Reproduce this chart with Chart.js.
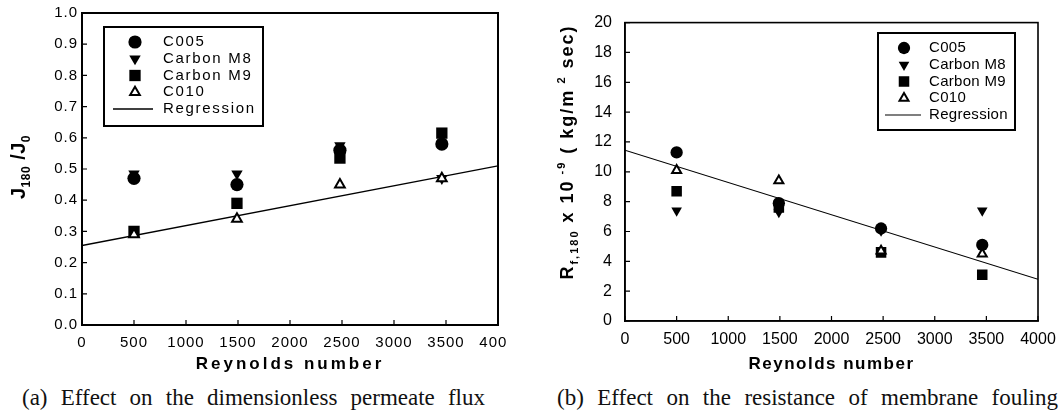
<!DOCTYPE html>
<html>
<head>
<meta charset="utf-8">
<script src="https://cdn.jsdelivr.net/npm/chart.js@4/dist/chart.umd.min.js"></script>
<style>
  body { margin: 0; background: #fff; width: 1064px; height: 416px; position: relative; overflow: hidden; }
  .panel { position: absolute; top: 0; height: 375px; overflow: hidden; }
  #wrapA { left: 0; width: 506px; }
  #wrapB { left: 530px; width: 534px; }
  .caption { position: absolute; top: 385px; font: 23px "Liberation Serif", serif; line-height: 26px;
             white-space: nowrap; text-align: justify; text-align-last: justify; color: #111; }
  #capA { left: 22px; width: 463px; }
  #capB { left: 557px; width: 501px; }
</style>
</head>
<body>
<div class="panel" id="wrapA"><canvas id="chartA" width="506" height="375"></canvas></div>
<div class="panel" id="wrapB"><canvas id="chartB" width="534" height="375"></canvas></div>
<div class="caption" id="capA">(a) Effect on the dimensionless permeate flux</div>
<div class="caption" id="capB">(b) Effect on the resistance of membrane fouling</div>
<script>
// Reynolds numbers of the four runs, and the ends of the regression lines
const reynolds = [500, 1490, 2480, 3460];
const regressionRe = [0, 4000];
const seriesLabels = ['C005', 'Carbon M8', 'Carbon M9', 'C010', 'Regression'];

// (a) J180/J0
const fluxC005 = [0.47, 0.45, 0.56, 0.58];
const fluxM8 = [0.485, 0.485, 0.575, 0.47];
const fluxM9 = [0.30, 0.39, 0.535, 0.615];
const fluxC010 = [0.29, 0.34, 0.45, 0.47];
const fluxRegression = [0.255, 0.51];

// (b) Rf,180 x 10^-9
const resC005 = [11.3, 7.9, 6.2, 5.1];
const resM8 = [7.4, 7.3, 6.05, 7.4];
const resM9 = [8.7, 7.6, 4.6, 3.1];
const resC010 = [10.1, 9.4, 4.7, 4.5];
const resRegression = [11.45, 2.8];

const FAMILY = '"Liberation Sans", Arial, sans-serif';
Chart.defaults.font.family = FAMILY;
Chart.defaults.color = '#000';

const pts = (ys, xs = reynolds) => ys.map((y, i) => ({ x: xs[i], y }));

// marker look per series (k scales the size a bit for panel b)
const marker = (i, k) => [
  { pointStyle: 'circle', pointRadius: 6.6 * k, pointRotation: 0, pointBackgroundColor: '#000', pointBorderColor: '#000', pointBorderWidth: 0, order: 1 },
  { pointStyle: 'triangle', pointRadius: 6.6 * k, pointRotation: 180, pointBackgroundColor: '#000', pointBorderColor: '#000', pointBorderWidth: 0, order: 2 },
  { pointStyle: 'rect', pointRadius: 8 * k, pointRotation: 0, pointBackgroundColor: '#000', pointBorderColor: '#000', pointBorderWidth: 0, order: 3 },
  { pointStyle: 'triangle', pointRadius: 5.6 * k, pointRotation: 0, pointBackgroundColor: '#fff', pointBorderColor: '#000', pointBorderWidth: 2, order: 0 },
][i];

function buildDatasets(series, reg, k, lw) {
  const ds = series.map((ys, i) => ({
    label: seriesLabels[i], data: pts(ys), showLine: false, ...marker(i, k),
  }));
  ds.push({
    label: seriesLabels[4], data: pts(reg, regressionRe), showLine: true,
    borderColor: '#000', borderWidth: lw, pointRadius: 0, order: 5,
  });
  return ds;
}

// letter spacing: one value for the axis title, one for tick labels
const spacing = {
  id: 'spacing',
  beforeDraw(chart, args, o) {
    if ('letterSpacing' in chart.ctx) chart.ctx.letterSpacing = o.title + 'px';
  },
  afterDatasetsDraw(chart, args, o) {
    if ('letterSpacing' in chart.ctx) chart.ctx.letterSpacing = o.ticks + 'px';
  },
};

// closed frame + tick marks pointing inward
const frame = {
  id: 'frame',
  afterDraw(chart, args, o) {
    const { ctx, chartArea: a, scales } = chart;
    ctx.save();
    ctx.strokeStyle = '#000';
    ctx.lineWidth = o.width;
    ctx.strokeRect(a.left, a.top, a.right - a.left, a.bottom - a.top);
    ctx.lineWidth = 1.2;
    ctx.beginPath();
    scales.x.ticks.forEach(t => {
      const px = scales.x.getPixelForValue(t.value);
      ctx.moveTo(px, a.bottom);
      ctx.lineTo(px, a.bottom - 5);
    });
    scales.y.ticks.forEach(t => {
      const py = scales.y.getPixelForValue(t.value);
      ctx.moveTo(a.left, py);
      ctx.lineTo(a.left + 5, py);
    });
    ctx.stroke();
    ctx.restore();
  },
};

// legend box inside the plot
const boxLegend = {
  id: 'boxLegend',
  afterDraw(chart, args, o) {
    const ctx = chart.ctx;
    ctx.save();
    if ('letterSpacing' in ctx) ctx.letterSpacing = o.spacing + 'px';
    ctx.strokeStyle = '#000';
    ctx.lineWidth = 2;
    ctx.strokeRect(o.left, o.top, o.right - o.left, o.bottom - o.top);
    ctx.font = o.font;
    ctx.textBaseline = 'middle';
    ctx.textAlign = 'left';
    chart.data.datasets.forEach((ds, i) => {
      const y = o.top + o.firstRow + i * o.rowGap;
      if (ds.showLine) {
        ctx.lineWidth = ds.borderWidth;
        ctx.beginPath();
        ctx.moveTo(o.lineX0, y);
        ctx.lineTo(o.lineX1, y);
        ctx.stroke();
      } else {
        ctx.fillStyle = ds.pointBackgroundColor;
        ctx.strokeStyle = ds.pointBorderColor;
        ctx.lineWidth = ds.pointBorderWidth;
        Chart.helpers.drawPoint(ctx, {
          pointStyle: ds.pointStyle, radius: ds.pointRadius,
          rotation: ds.pointRotation, borderWidth: ds.pointBorderWidth,
        }, o.markerX, y);
      }
      ctx.fillStyle = '#000';
      ctx.strokeStyle = '#000';
      ctx.fillText(ds.label, o.textX, y);
    });
    ctx.restore();
  },
};

// rotated y title with sub/superscripts: parts = [text, size, shift]
const yTitle = {
  id: 'yTitle',
  afterDraw(chart, args, o) {
    const ctx = chart.ctx;
    ctx.save();
    if ('letterSpacing' in ctx) ctx.letterSpacing = o.spacing + 'px';
    ctx.fillStyle = '#000';
    ctx.textAlign = 'left';
    ctx.textBaseline = 'alphabetic';
    const widths = o.parts.map(p => {
      ctx.font = `bold ${p[1]}px ${FAMILY}`;
      return ctx.measureText(p[0]).width;
    });
    const total = widths.reduce((s, w) => s + w, 0);
    ctx.translate(o.x, o.cy);
    ctx.rotate(-Math.PI / 2);
    let x = -total / 2;
    o.parts.forEach((p, i) => {
      ctx.font = `bold ${p[1]}px ${FAMILY}`;
      ctx.fillText(p[0], x, p[2] || 0);
      x += widths[i];
    });
    ctx.restore();
  },
};

function makeChart(id, cfg) {
  const H = 375;
  return new Chart(document.getElementById(id), {
    type: 'scatter',
    data: { datasets: cfg.datasets },
    plugins: [spacing, frame, boxLegend, yTitle],
    options: {
      responsive: false,
      animation: false,
      layout: { padding: { left: 0, right: cfg.padRight, top: cfg.top, bottom: 0 } },
      scales: {
        x: {
          type: 'linear', min: 0, max: 4000,
          ticks: { stepSize: 500, font: { size: cfg.tickSize }, color: '#000', padding: cfg.xPad, z: 1, callback: (v) => String(v) },
          grid: { drawOnChartArea: false, drawTicks: false },
          border: { display: true, color: '#000', width: cfg.frameWidth },
          title: {
            display: true, text: 'Reynolds number', color: '#000',
            font: { size: 17, weight: 'bold' }, padding: { top: 0, bottom: 0 },
          },
          afterFit: (s) => { s.height = H - cfg.bottom; s.paddingLeft = 0; s.paddingRight = 0; },
        },
        y: {
          min: cfg.yMin, max: cfg.yMax,
          ticks: { stepSize: cfg.yStep, font: { size: cfg.tickSize }, color: '#000', padding: cfg.yPad, z: 1, callback: cfg.yFmt },
          grid: { drawOnChartArea: false, drawTicks: false },
          border: { display: true, color: '#000', width: cfg.frameWidth },
          afterFit: (s) => { s.width = cfg.left; },
        },
      },
      plugins: {
        legend: { display: false },
        tooltip: { enabled: false },
        spacing: cfg.spacing,
        frame: { width: cfg.frameWidth },
        boxLegend: cfg.legend,
        yTitle: cfg.yTitle,
      },
    },
  });
}

// (a) dimensionless permeate flux
makeChart('chartA', {
  datasets: buildDatasets([fluxC005, fluxM8, fluxM9, fluxC010], fluxRegression, 1, 1.4),
  left: 82, padRight: 7, top: 13, bottom: 325,
  tickSize: 15, xPad: 9, yPad: 4, frameWidth: 2,
  yMin: 0, yMax: 1, yStep: 0.1, yFmt: (v) => v.toFixed(1),
  spacing: { title: 3, ticks: 1 },
  legend: {
    left: 104, top: 27, right: 263, bottom: 126, firstRow: 15, rowGap: 16.75,
    markerX: 135, textX: 163, lineX0: 113, lineX1: 153,
    font: `15px ${FAMILY}`, spacing: 1.7,
  },
  yTitle: {
    x: 25, cy: 167, spacing: 0.5,
    parts: [['J', 20], ['180', 12, 5], [' /J', 20], ['0', 12, 5]],
  },
});

// (b) resistance of membrane fouling
makeChart('chartB', {
  datasets: buildDatasets([resC005, resM8, resM9, resC010], resRegression, 0.93, 1.1),
  left: 95, padRight: 26, top: 15, bottom: 321,
  tickSize: 16, xPad: 9, yPad: 13, frameWidth: 1.6,
  yMin: 0, yMax: 20, yStep: 2, yFmt: (v) => String(v),
  spacing: { title: 1.5, ticks: 0 },
  legend: {
    left: 348, top: 33, right: 485, bottom: 130, firstRow: 15, rowGap: 16.75,
    markerX: 374, textX: 399, lineX0: 355, lineX1: 391,
    font: `15px ${FAMILY}`, spacing: 0.3,
  },
  yTitle: {
    x: 43, cy: 152, spacing: 2,
    parts: [['R', 18], ['f,180', 11, 5], [' x 10', 18], [' -9', 11, -8], [' ( kg/m', 18], [' 2', 11, -8], [' sec)', 18]],
  },
});
</script>
</body>
</html>
